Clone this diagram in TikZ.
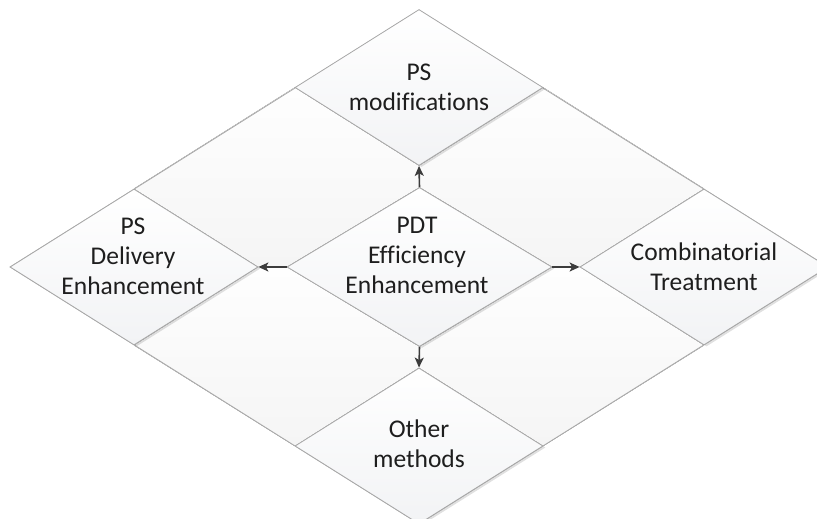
\documentclass[tikz,border=0pt]{standalone}
\usepackage{fontspec}
\setmainfont{Carlito}[Ligatures=NoCommon]
\usetikzlibrary{shapes.geometric,arrows.meta,shadows}
\definecolor{edgec}{HTML}{A8A8A8}
\definecolor{txtc}{HTML}{1E1E1E}
\definecolor{arrowc}{HTML}{3C3C3C}
\definecolor{dtop}{HTML}{FFFFFF}
\definecolor{dbot}{HTML}{F2F3F5}
\definecolor{ctop}{HTML}{FEFEFE}
\definecolor{cbot}{HTML}{F5F5F5}
\pgfdeclarelayer{bg}
\pgfsetlayers{bg,main}
\begin{document}
\begin{tikzpicture}[x=1pt,y=1pt,
  dia/.style={diamond, draw=edgec, line width=0.8pt, inner sep=0pt,
    minimum width=248pt, minimum height=156pt, top color=dtop, bottom color=dbot,
    drop shadow={shadow xshift=2.5pt, shadow yshift=-1.5pt, fill=black, opacity=0.12}},
  lbl/.style={font=\fontsize{25.5}{30}\selectfont, text=txtc, align=center, inner sep=0pt},
  arr/.style={draw=arrowc, line width=1.6pt, -{Stealth[length=10pt,width=9pt,inset=2.5pt]}},
  cornerfill/.style={top color=ctop, bottom color=cbot}]
\useasboundingbox (0,0) rectangle (817,519);
\clip (0,0) rectangle (817,519);
% outer frame
\node[diamond, draw=edgec, line width=0.8pt, inner sep=0pt,
  minimum width=818pt, minimum height=514pt] (outer) at (419,252) {};
% five diamonds
\node[dia] (top) at (419,431.5) {};
\node[dia] (left) at (134,252) {};
\node[dia] (right) at (704,252) {};
\node[dia] (bot) at (419,73) {};
\node[dia, minimum width=265pt, minimum height=159pt] (ctr) at (419.5,252) {};
% corner regions
\begin{pgfonlayer}{bg}
\fill[cornerfill] (top.west) -- (left.north) -- (left.east) -- (ctr.west) -- (ctr.north) -- (top.south) -- cycle;
\fill[cornerfill] (top.east) -- (right.north) -- (right.west) -- (ctr.east) -- (ctr.north) -- (top.south) -- cycle;
\fill[cornerfill] (left.south) -- (bot.west) -- (bot.north) -- (ctr.south) -- (ctr.west) -- (left.east) -- cycle;
\fill[cornerfill] (right.south) -- (bot.east) -- (bot.north) -- (ctr.south) -- (ctr.east) -- (right.west) -- cycle;
\end{pgfonlayer}
% labels
\node[lbl] (topT) at (419,432) {PS\\modifications};
\node[lbl] (leftT) at (133,263) {PS\\Delivery\\Enhancement};
\node[lbl] (ctrT) at (417,264) {PDT\\Efficiency\\Enhancement};
\node[lbl] (rightT) at (704,252.5) {Combinatorial\\Treatment};
\node[lbl] (botT) at (419,75) {Other\\methods};
% arrows
\draw[arr] (ctr.north) -- (top.south);
\draw[arr] (ctr.south) -- (bot.north);
\draw[arr] (ctr.west) -- (left.east);
\draw[arr] (ctr.east) -- (right.west);
\end{tikzpicture}
\end{document}
